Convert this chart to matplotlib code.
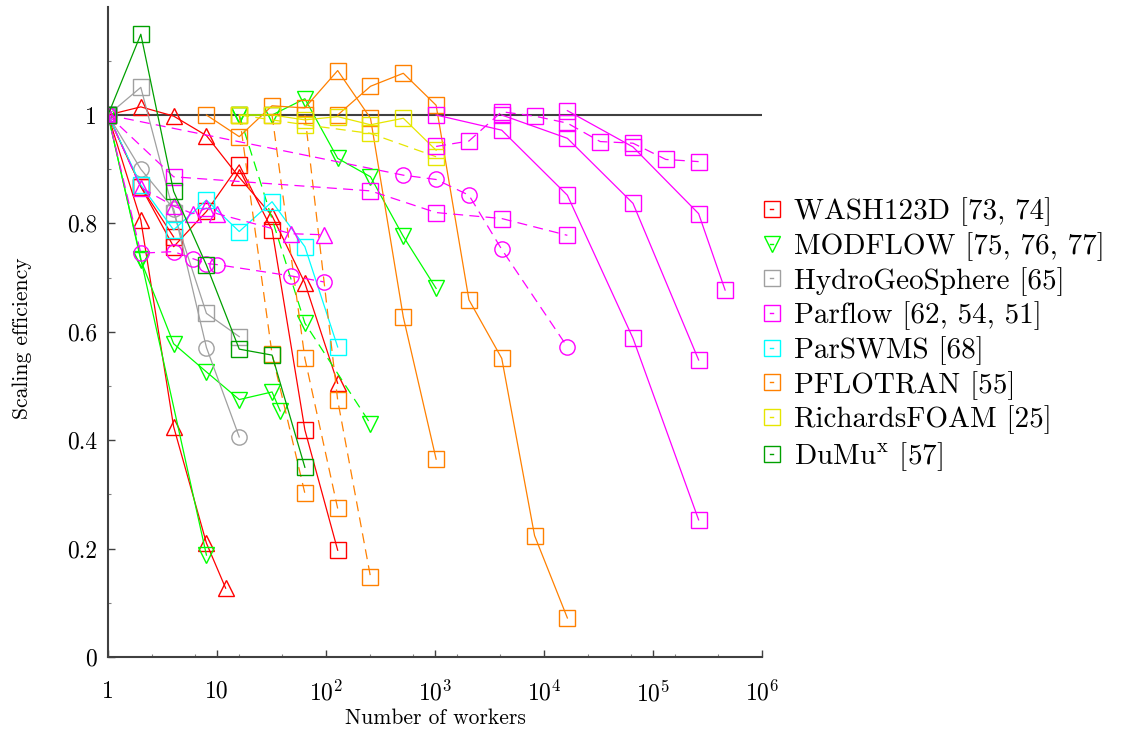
import numpy as np
import matplotlib.pyplot as plt
from matplotlib.lines import Line2D

plt.rcParams['font.family'] = 'cmr10'
plt.rcParams['mathtext.fontset'] = 'cm'
plt.rcParams['axes.formatter.use_mathtext'] = True

# ---- data ----
# WASH123D
wash_sq_x = [1, 2, 4, 8, 16, 32, 64, 128]
wash_sq_y = [1.0, 0.868, 0.757, 0.822, 0.908, 0.788, 0.419, 0.197]
wash_sq2_x = [1, 2, 4]
wash_sq2_y = [1.0, 0.868, 0.775]
wash_tri_x = [1, 2, 4, 8, 16, 32, 64, 128]
wash_tri_y = [1.0, 1.015, 0.998, 0.962, 0.885, 0.814, 0.69, 0.505]
wash_tri2_x = [1, 2, 4, 8, 12]
wash_tri2_y = [1.0, 0.806, 0.425, 0.21, 0.127]

# MODFLOW
mod_a_x = [1, 2, 4, 8, 16, 32, 38]
mod_a_y = [1.0, 0.732, 0.578, 0.526, 0.475, 0.489, 0.454]
mod_b_x = [1, 2, 8]
mod_b_y = [1.0, 0.735, 0.188]
mod_c_x = [16, 32, 64, 128, 256, 512, 1024]
mod_c_y = [1.0, 1.0, 1.03, 0.92, 0.886, 0.776, 0.68]
mod_d_x = [16, 64, 256]
mod_d_y = [1.0, 0.616, 0.43]

# HydroGeoSphere
hgs_sq_x = [1, 2, 4, 8, 16]
hgs_sq_y = [1.0, 1.051, 0.82, 0.634, 0.591]
hgs_ci_x = [1, 2, 4, 8, 16]
hgs_ci_y = [1.0, 0.9, 0.827, 0.571, 0.406]

# Parflow
pf_tri_x = [1, 2, 4, 6, 8, 10, 48, 96]
pf_tri_y = [1.0, 0.866, 0.832, 0.818, 0.828, 0.818, 0.781, 0.779]
pf_ci_x = [1, 2, 4, 6, 8, 10, 48, 96]
pf_ci_y = [1.0, 0.745, 0.748, 0.735, 0.726, 0.724, 0.703, 0.692]
pf_sq_dash_x = [1, 4, 256, 1024, 4096, 16384]
pf_sq_dash_y = [1.0, 0.886, 0.86, 0.82, 0.809, 0.778]
pf_ci_dash_x = [1, 512, 1024, 2048, 4096, 16384]
pf_ci_dash_y = [1.0, 0.889, 0.881, 0.852, 0.752, 0.572]
pf_top_x = [1024, 2048, 4096, 8192, 16384, 32768, 65536, 131072, 262144]
pf_top_y = [0.942, 0.952, 1.006, 0.998, 0.985, 0.951, 0.948, 0.918, 0.914]
pf_s1_x = [1024, 4096, 16384, 65536, 262144]
pf_s1_y = [1.0, 0.972, 0.852, 0.588, 0.253]
pf_s2_x = [4096, 16384, 65536, 262144]
pf_s2_y = [1.0, 0.957, 0.837, 0.548]
pf_s3_x = [16384, 65536, 262144, 458752]
pf_s3_y = [1.008, 0.941, 0.818, 0.677]

# ParSWMS
psw_x = [1, 2, 4, 8, 16, 32, 64, 128]
psw_y = [1.0, 0.871, 0.788, 0.843, 0.785, 0.84, 0.757, 0.572]

# PFLOTRAN
pflo_a_x = [8, 16, 32, 64, 128, 256, 512, 1024]
pflo_a_y = [1.0, 0.96, 1.017, 1.013, 1.082, 0.994, 0.627, 0.365]
pflo_b_x = [128, 256, 512, 1024, 2048, 4096, 8192, 16384]
pflo_b_y = [1.0, 1.053, 1.077, 1.018, 0.659, 0.551, 0.224, 0.072]
pflo_d1_x = [16, 32, 64]
pflo_d1_y = [1.0, 0.559, 0.302]
pflo_d2_x = [32, 64, 128]
pflo_d2_y = [1.0, 0.551, 0.274]
pflo_d3_x = [64, 128, 256]
pflo_d3_y = [1.0, 0.474, 0.148]

# RichardsFOAM
rf_x = [16, 32, 64, 128, 256, 512, 1024]
rf_y = [1.0, 1.0, 0.991, 0.997, 0.982, 0.994, 0.935]
rf_dash_x = [16, 64, 256, 1024]
rf_dash_y = [1.0, 0.982, 0.966, 0.923]

# DuMuX
dumux_x = [1, 2, 4, 8, 16, 32, 64]
dumux_y = [1.0, 1.149, 0.859, 0.723, 0.568, 0.557, 0.35]

labels = ['WASH123D [73, 74]', 'MODFLOW [75, 76, 77]', 'HydroGeoSphere [65]',
          'Parflow [62, 54, 51]', 'ParSWMS [68]', 'PFLOTRAN [55]',
          'RichardsFOAM [25]', r'DuMu$^{\mathrm{x}}$ [57]']

RED = '#ff0000'
LIME = '#00ff00'
GRAY = '#a0a0a0'
MAG = '#ff00ff'
CYAN = '#00ffff'
ORANGE = '#ff8000'
YELLOW = '#e6e600'
DKGREEN = '#00a000'

fig = plt.figure(figsize=(11.43, 7.31), dpi=100)
ax = fig.add_axes([108 / 1143, 1 - 657 / 731, 654 / 1143, 1.2 * 542 / 731])

ax.axhline(1.0, color='#404040', lw=1.5, zorder=1)

MS = 11
def draw(x, y, c, m, dashed=False):
    kw = dict(color=c, marker=m, mfc='none', mec=c, ms=MS, mew=1.0, lw=0.9, zorder=2)
    if dashed:
        kw['dashes'] = (8, 5)
    ax.plot(x, y, **kw)

draw(wash_sq_x, wash_sq_y, RED, 's')
draw(wash_sq2_x, wash_sq2_y, RED, 's')
draw(wash_tri_x, wash_tri_y, RED, '^')
draw(wash_tri2_x, wash_tri2_y, RED, '^')

draw(mod_a_x, mod_a_y, LIME, 'v')
draw(mod_b_x, mod_b_y, LIME, 'v')
draw(mod_c_x, mod_c_y, LIME, 'v')
draw(mod_d_x, mod_d_y, LIME, 'v', dashed=True)

draw(hgs_sq_x, hgs_sq_y, GRAY, 's')
draw(hgs_ci_x, hgs_ci_y, GRAY, 'o')

draw(psw_x, psw_y, CYAN, 's')

draw(pflo_a_x, pflo_a_y, ORANGE, 's')
draw(pflo_b_x, pflo_b_y, ORANGE, 's')
draw(pflo_d1_x, pflo_d1_y, ORANGE, 's', dashed=True)
draw(pflo_d2_x, pflo_d2_y, ORANGE, 's', dashed=True)
draw(pflo_d3_x, pflo_d3_y, ORANGE, 's', dashed=True)

draw(rf_x, rf_y, YELLOW, 's')
draw(rf_dash_x, rf_dash_y, YELLOW, 's', dashed=True)

draw(pf_tri_x, pf_tri_y, MAG, '^', dashed=True)
draw(pf_ci_x, pf_ci_y, MAG, 'o', dashed=True)
draw(pf_sq_dash_x, pf_sq_dash_y, MAG, 's', dashed=True)
draw(pf_ci_dash_x, pf_ci_dash_y, MAG, 'o', dashed=True)
draw(pf_top_x, pf_top_y, MAG, 's', dashed=True)
draw(pf_s1_x, pf_s1_y, MAG, 's')
draw(pf_s2_x, pf_s2_y, MAG, 's')
draw(pf_s3_x, pf_s3_y, MAG, 's')

draw(dumux_x, dumux_y, DKGREEN, 's')

ax.set_xscale('log')
ax.set_xlim(1, 1e6)
ax.set_ylim(0, 1.2)
ax.set_xticks([10 ** k for k in range(7)])
ax.set_xticklabels(['1', '10', '$10^2$', '$10^3$', '$10^4$', '$10^5$', '$10^6$'])
minor = [10 ** (0.4 * k) for k in range(1, 16) if k % 5 != 0]
ax.set_xticks(minor, minor=True)
ax.set_xticklabels([], minor=True)
ax.set_yticks([0, 0.2, 0.4, 0.6, 0.8, 1.0])
ax.set_yticklabels(['0', '0.2', '0.4', '0.6', '0.8', '1'])
ax.set_yticks(np.arange(0.1, 1.2, 0.2), minor=True)
ax.tick_params(which='major', direction='in', length=5, width=1, color='#404040',
               labelsize=17)
ax.tick_params(axis='x', which='major', pad=17)
ax.tick_params(axis='y', which='major', pad=8)
ax.tick_params(which='minor', direction='in', length=2.5, width=0.8, color='#808080')
for s in ['top', 'right']:
    ax.spines[s].set_visible(False)
for s in ['left', 'bottom']:
    ax.spines[s].set_color('#404040')
    ax.spines[s].set_linewidth(1.5)

ax.set_xlabel('Number of workers', fontsize=15.5, va='center')
ax.xaxis.set_label_coords(0.5, -0.094)
ax.set_ylabel('Scaling efficiency', fontsize=15.5, va='center')
ax.yaxis.set_label_coords(-0.131, 0.49)

leg_colors = [RED, LIME, GRAY, MAG, CYAN, ORANGE, YELLOW, DKGREEN]
leg_markers = ['s', 'v', 's', 's', 's', 's', 's', 's']
handles = [Line2D([0], [0], color=c, marker=m, mfc='none', mec=c, ms=MS, mew=1.0, lw=1.0)
           for c, m in zip(leg_colors, leg_markers)]
fig.legend(handles, labels, loc='center left', bbox_to_anchor=(0.674, 0.5415),
           frameon=False, fontsize=21, handlelength=0.1, handletextpad=0.7,
           labelspacing=0.2, borderpad=0, borderaxespad=0)

fig.savefig('out.png', dpi=100)
